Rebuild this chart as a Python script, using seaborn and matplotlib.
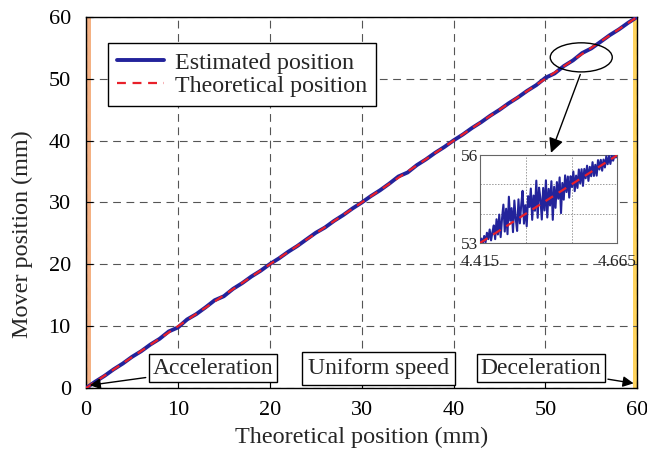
import matplotlib
matplotlib.use("Agg")
import matplotlib.pyplot as plt
import seaborn as sns
import pandas as pd
from matplotlib.patches import Ellipse

# ---------------- data ----------------
theo_x = [0, 1, 2, 3, 4, 5, 6, 7, 8, 9, 10, 11, 12, 13, 14, 15, 16, 17, 18, 19, 20,
          21, 22, 23, 24, 25, 26, 27, 28, 29, 30, 31, 32, 33, 34, 35, 36, 37, 38, 39, 40,
          41, 42, 43, 44, 45, 46, 47, 48, 49, 50, 51, 52, 53, 54, 55, 56, 57, 58, 59, 60]
est_y = [0.0, 1.04, 1.97, 3.03, 3.97, 5.05, 5.96, 7.04, 7.96, 9.15, 9.8, 11.1, 11.96,
         13.04, 14.2, 14.85, 16.04, 16.97, 18.04, 18.96, 20.04, 20.97, 22.03, 22.97,
         24.04, 25.1, 25.95, 27.03, 27.97, 29.03, 29.98, 31.03, 31.97, 33.04, 34.2,
         34.85, 36.03, 36.97, 38.03, 38.97, 40.03, 40.97, 42.03, 42.97, 44.03, 44.97,
         46.03, 46.97, 48.03, 48.96, 50.15, 50.85, 52.04, 52.96, 54.15, 54.9, 55.96,
         57.04, 57.97, 59.03, 60.0]
theo_line_x = [0, 60]
theo_line_y = [0, 60]

inset_t = [4.415 + 0.0025 * i for i in range(101)]
inset_est = [53.00, 53.15, 52.98, 53.24, 53.02, 53.35, 53.13, 53.46, 53.09, 53.37,
             53.60, 53.13, 53.81, 53.29, 53.97, 53.20, 53.83, 54.31, 53.39, 54.17,
             53.30, 54.58, 53.76, 54.19, 53.37, 54.45, 53.83, 53.41, 54.49, 53.67,
             54.30, 54.78, 53.66, 54.29, 53.57, 54.60, 54.23, 54.86, 53.79, 54.62,
             54.10, 55.13, 53.86, 54.89, 54.52, 53.80, 54.88, 54.11, 55.14, 53.87,
             54.85, 54.28, 55.11, 53.79, 54.92, 54.20, 55.08, 54.51, 55.24, 54.02,
             55.05, 54.48, 55.31, 54.74, 55.27, 54.55, 55.28, 54.91, 55.44, 54.77,
             55.30, 54.88, 55.51, 55.04, 55.52, 54.95, 55.53, 55.21, 55.64, 55.12,
             55.60, 55.28, 55.76, 55.29, 55.67, 55.30, 55.83, 55.51, 55.84, 55.47,
             55.85, 55.58, 55.96, 55.69, 55.97, 55.70, 55.98, 55.81, 55.99, 55.92,
             56.00]
inset_theo_t = [4.415, 4.665]
inset_theo_y = [53, 56]

main_ticks = [0, 10, 20, 30, 40, 50, 60]
phase_labels = ["Acceleration", "Uniform speed", "Deceleration"]

# ---------------- style ----------------
sns.set_style("white")
plt.rcParams["font.family"] = ["Liberation Serif", "DejaVu Serif"]

BLUE = "#23239b"
RED = "#e8202a"

fig = plt.figure(figsize=(6.47, 4.55), dpi=100)
ax = fig.add_axes([0.133, 0.147, 0.852, 0.816])

df_est = pd.DataFrame({"x": theo_x, "y": est_y})
df_theo = pd.DataFrame({"x": theo_line_x, "y": theo_line_y})

ax.axvspan(0, 0.5, color="#f4b183", lw=0, zorder=0)
ax.axvspan(59.5, 60, color="#ffd45e", lw=0, zorder=0)

sns.lineplot(data=df_est, x="x", y="y", ax=ax, color=BLUE, lw=2.8,
             label="Estimated position", zorder=3)
sns.lineplot(data=df_theo, x="x", y="y", ax=ax, color=RED, lw=1.6,
             linestyle=(0, (4, 3)), label="Theoretical position", zorder=4)

ax.set_xlim(0, 60)
ax.set_ylim(0, 60)
ax.set_xticks(main_ticks)
ax.set_yticks(main_ticks)
ax.grid(True, color="#555555", linestyle=(0, (7, 5)), lw=0.8)
ax.tick_params(direction="in", length=5, labelsize=16, colors="black", left=True, bottom=True)
ax.tick_params(axis="x", pad=9)
ax.tick_params(axis="y", pad=11)
for s in ax.spines.values():
    s.set_color("black")
    s.set_linewidth(1.0)
ax.set_xlabel("Theoretical position (mm)", fontsize=17.4)
ax.set_ylabel("Mover position (mm)", fontsize=17.4)
ax.xaxis.set_label_coords(0.5, -0.103)
ax.yaxis.set_label_coords(-0.097, 0.415)

leg = ax.legend(loc="upper left", bbox_to_anchor=(0.040, 0.930), fontsize=17.3,
                frameon=True, fancybox=False, edgecolor="black", framealpha=1,
                handlelength=1.95, borderpad=0.38, labelspacing=0.05, handletextpad=0.45,
                borderaxespad=0)
leg.get_frame().set_linewidth(1.0)

box = dict(boxstyle="square,pad=0.15", fc="white", ec="black", lw=1)
arrow = dict(arrowstyle="-|>", color="black", lw=1, mutation_scale=16)
ax.annotate(phase_labels[0], xy=(0.1, 0.4), xytext=(13.8, 3.2), fontsize=17,
            ha="center", va="center", bbox=box, arrowprops=arrow, zorder=6)
ax.text(31.85, 3.2, phase_labels[1], fontsize=17, ha="center", va="center",
        bbox=dict(boxstyle="square,pad=0.25", fc="white", ec="black", lw=1), zorder=6)
ax.annotate(phase_labels[2], xy=(59.9, 0.7), xytext=(49.5, 3.2), fontsize=17,
            ha="center", va="center", bbox=box, arrowprops=arrow, zorder=6)

ax.add_patch(Ellipse((53.9, 53.45), 6.75, 4.7, fill=False, ec="black", lw=1, zorder=6))
ax.annotate("", xy=(50.5, 37.6), xytext=(53.9, 51.1),
            arrowprops=dict(arrowstyle="-|>", color="black", lw=1, mutation_scale=22),
            zorder=6)

# ---------------- inset ----------------
ins = fig.add_axes([0.742, 0.466, 0.212, 0.193])
df_in = pd.DataFrame({"t": inset_t, "y": inset_est})
df_in_t = pd.DataFrame({"t": inset_theo_t, "y": inset_theo_y})
sns.lineplot(data=df_in, x="t", y="y", ax=ins, color=BLUE, lw=1.5, zorder=3)
sns.lineplot(data=df_in_t, x="t", y="y", ax=ins, color=RED, lw=1.6,
             linestyle=(0, (4, 3)), zorder=4)
ins.set_xlim(4.415, 4.665)
ins.set_ylim(53, 56)
ins.set_xticks([4.415, 4.665])
ins.set_xticklabels(["4.415", "4.665"])
ins.set_yticks([53, 56])
ins.set_xticks([4.415 + 0.25 / 3, 4.415 + 0.5 / 3], minor=True)
ins.set_yticks([54, 55], minor=True)
ins.grid(True, which="minor", color="#999999", linestyle=(0, (1.5, 1.5)), lw=0.7)
ins.grid(False, which="major")
ins.tick_params(which="both", length=0, labelsize=12.5, pad=1)
ins.tick_params(axis="x", pad=8)
ins.set_xlabel("")
ins.set_ylabel("")
for s in ins.spines.values():
    s.set_color("#666666")
    s.set_linewidth(0.8)
ins.set_facecolor("white")

fig.savefig("out.png", dpi=100)
